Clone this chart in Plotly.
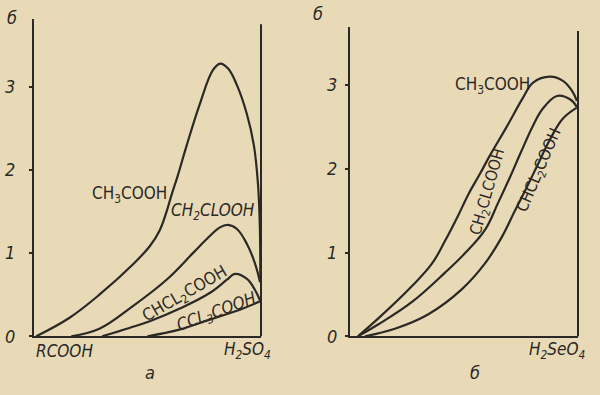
import plotly.graph_objects as go

# ---------------- data ----------------
# Panel a: RCOOH - H2SO4
a_ch3_x = [0.01, 0.155, 0.288, 0.434, 0.509, 0.553, 0.584, 0.606, 0.633, 0.672, 0.73, 0.788, 0.82, 0.855, 0.894, 0.938, 0.969, 0.987, 0.995, 0.997]
a_ch3_y = [0.0, 0.22, 0.50, 0.86, 1.08, 1.27, 1.50, 1.70, 1.93, 2.29, 2.79, 3.20, 3.28, 3.22, 3.02, 2.67, 2.29, 1.82, 1.31, 0.65]

a_ch2cl_x = [0.164, 0.288, 0.434, 0.584, 0.70, 0.761, 0.819, 0.854, 0.894, 0.938, 0.973, 0.996]
a_ch2cl_y = [0.0, 0.09, 0.36, 0.68, 1.00, 1.17, 1.31, 1.34, 1.29, 1.11, 0.88, 0.65]

a_chcl2_x = [0.30, 0.42, 0.51, 0.64, 0.774, 0.85, 0.885, 0.938, 0.973, 0.996]
a_chcl2_y = [0.0, 0.10, 0.18, 0.33, 0.52, 0.68, 0.75, 0.69, 0.56, 0.43]

a_ccl3_x = [0.50, 0.64, 0.774, 0.907, 0.996]
a_ccl3_y = [0.0, 0.08, 0.20, 0.32, 0.42]

# Panel б: RCOOH - H2SeO4
b_ch3_x = [0.035, 0.123, 0.272, 0.36, 0.417, 0.474, 0.52, 0.57, 0.614, 0.689, 0.759, 0.803, 0.877, 0.934, 0.974, 0.995]
b_ch3_y = [0.0, 0.21, 0.60, 0.87, 1.14, 1.44, 1.70, 1.94, 2.16, 2.51, 2.85, 3.03, 3.10, 3.05, 2.93, 2.81]

b_ch2cl_x = [0.035, 0.123, 0.272, 0.417, 0.504, 0.592, 0.649, 0.70, 0.75, 0.80, 0.846, 0.908, 0.965, 0.995]
b_ch2cl_y = [0.0, 0.14, 0.41, 0.76, 0.99, 1.27, 1.59, 1.89, 2.20, 2.50, 2.72, 2.87, 2.83, 2.74]

b_chcl2_x = [0.066, 0.197, 0.342, 0.49, 0.592, 0.667, 0.72, 0.77, 0.82, 0.877, 0.934, 0.995]
b_chcl2_y = [0.0, 0.09, 0.26, 0.56, 0.87, 1.19, 1.48, 1.75, 2.03, 2.35, 2.60, 2.73]

y_ticks = [0, 1, 2, 3]
y_ticktext = ["0", "1", "2", "3"]
y_title = "б"
ends_a = ["RCOOH", "H<sub>2</sub>SO<sub>4</sub>"]
ends_b = ["RCOOH", "H<sub>2</sub>SeO<sub>4</sub>"]
panel_names = ["а", "б"]

labels_a = ["CH<sub>3</sub>COOH", "<i>CH<sub>2</sub>CLOOH</i>", "CHCL<sub>2</sub>COOH", "<i>CCL<sub>3</sub>COOH</i>"]
labels_b = ["CH<sub>3</sub>COOH", "CH<sub>2</sub>CLCOOH", "CHCL<sub>2</sub>COOH"]

# ---------------- style ----------------
INK = "#2b2926"
PAPER = "#e9dab7"
FONT = "DejaVu Sans Condensed, Liberation Sans Narrow, DejaVu Sans, sans-serif"

fig = go.Figure()

def add_curve(x, y, xa, ya):
    fig.add_trace(go.Scatter(x=x, y=y, mode="lines", xaxis=xa, yaxis=ya,
                             line=dict(color=INK, width=2.2, shape="spline", smoothing=1.1),
                             showlegend=False, hoverinfo="skip"))

for xs, ys in [(a_ch3_x, a_ch3_y), (a_ch2cl_x, a_ch2cl_y), (a_chcl2_x, a_chcl2_y), (a_ccl3_x, a_ccl3_y)]:
    add_curve(xs, ys, "x", "y")
for xs, ys in [(b_ch3_x, b_ch3_y), (b_ch2cl_x, b_ch2cl_y), (b_chcl2_x, b_chcl2_y)]:
    add_curve(xs, ys, "x2", "y2")

xcommon = dict(range=[0, 1], showline=True, linecolor=INK, linewidth=2, showticklabels=False,
               ticks="", showgrid=False, zeroline=False, fixedrange=True)
ycommon = dict(showline=True, linecolor=INK, linewidth=2, tickvals=y_ticks, ticktext=y_ticktext,
               ticks="outside", ticklen=3, tickwidth=1.5, tickcolor=INK,
               tickfont=dict(family=FONT, size=18, color=INK, style="italic"),
               showgrid=False, zeroline=False, fixedrange=True)

fig.update_layout(
    width=600, height=395, margin=dict(l=0, r=0, t=0, b=0),
    paper_bgcolor=PAPER, plot_bgcolor=PAPER,
    xaxis=dict(domain=[34 / 600, 261 / 600], anchor="y", **xcommon),
    yaxis=dict(domain=[50 / 395, 375 / 395], range=[0, 3.81], anchor="x", ticklabelstandoff=10, **ycommon),
    xaxis2=dict(domain=[350 / 600, 578 / 600], anchor="y2", **xcommon),
    yaxis2=dict(domain=[50 / 395, 367 / 395], range=[0, 3.69], anchor="x2", ticklabelstandoff=4, **ycommon),
    font=dict(family=FONT, color=INK),
)

# right-hand borders of each panel
fig.add_shape(type="line", xref="x domain", yref="y domain", x0=1, x1=1, y0=0, y1=0.985,
              line=dict(color=INK, width=2))
fig.add_shape(type="line", xref="x2 domain", yref="y2 domain", x0=1, x1=1, y0=0, y1=0.988,
              line=dict(color=INK, width=2))

def ann(text, x, y, xref, yref, size=16, angle=0, xanchor="center", italic=False):
    fig.add_annotation(text=text, x=x, y=y, xref=xref, yref=yref, showarrow=False,
                       textangle=angle, xanchor=xanchor, yanchor="middle",
                       font=dict(family=FONT, size=size, color=INK, style="italic" if italic else "normal"))

# curve labels, panel a
ann(labels_a[0], 0.42, 1.70, "x", "y", size=17)
ann(labels_a[1], 0.79, 1.50, "x", "y", size=17)
ann(labels_a[2], 0.665, 0.50, "x", "y", size=17, angle=-30)
ann(labels_a[3], 0.805, 0.29, "x", "y", size=17, angle=-20)

# curve labels, panel б
ann(labels_b[0], 0.623, 3.0, "x2", "y2", size=17)
ann(labels_b[1], 0.605, 1.73, "x2", "y2", size=16, angle=-74)
ann(labels_b[2], 0.83, 1.98, "x2", "y2", size=16, angle=-67)

# axis end labels
ann(ends_a[0], 0.0, 1 - 360 / 395, "x", "paper", size=17, xanchor="left", italic=True)
ann(ends_a[1], 0.94, 1 - 360 / 395, "x", "paper", size=17, italic=True)
ann(ends_b[0], -0.02, 1 - 360 / 395, "x2", "paper", size=17, xanchor="left", italic=True)
ann(ends_b[1], 0.91, 1 - 360 / 395, "x2", "paper", size=17, italic=True)

# panel names
ann(panel_names[0], 0.51, 1 - 382 / 395, "x", "paper", size=18, italic=True)
ann(panel_names[1], 0.55, 1 - 382 / 395, "x2", "paper", size=18, italic=True)

# y axis titles
ann(y_title, 12 / 600, 1 - 18 / 395, "paper", "paper", size=18, italic=True)
ann(y_title, 318 / 600, 1 - 14 / 395, "paper", "paper", size=18, italic=True)

fig.write_html("out.html", config={"displayModeBar": False},
               post_script="document.body.style.margin='0';document.body.style.background='#e9dab7';")
